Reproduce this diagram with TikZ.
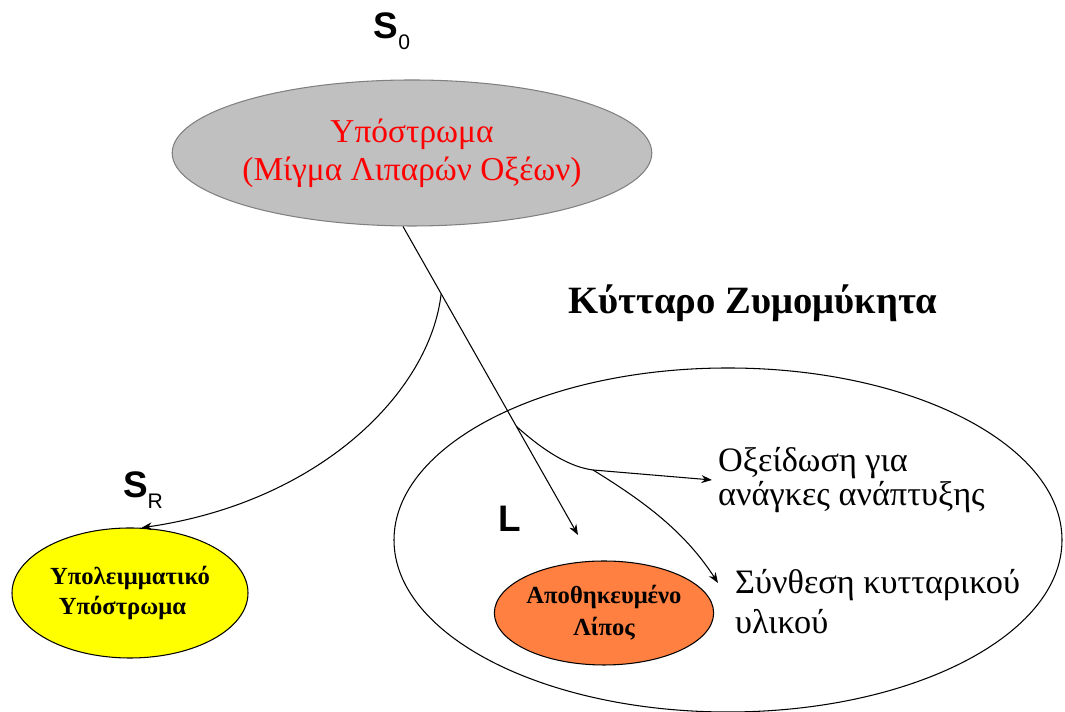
\documentclass[tikz,border=0pt]{standalone}
\usepackage{fontspec}
\setmainfont{Liberation Serif}
\newfontfamily\labelfont{Liberation Sans}
\usetikzlibrary{shapes.geometric,arrows.meta}
\definecolor{subgray}{RGB}{192,192,192}
\definecolor{resyellow}{RGB}{255,255,0}
\definecolor{fatorange}{RGB}{255,128,64}
\newcommand{\lblsub}[1]{{\mdseries\fontsize{12}{12}\selectfont\raisebox{-6pt}{#1}}}

\begin{document}
\begin{tikzpicture}[
    every node/.style={font=\fontsize{19}{22}\selectfont},
    blob/.style={ellipse, draw, inner sep=0pt, line width=0.6pt},
    conn/.style={-{Stealth[length=6pt,width=4.5pt]}, line width=0.6pt},
    tag/.style={font=\labelfont\bfseries\fontsize{21}{24}\selectfont}]
    \useasboundingbox (0,0) rectangle (21.3,14.24);

    % Cell
    \node[blob, minimum width=13.36cm, minimum height=6.88cm] (cell) at (14.56,3.44) {};
    \node[font=\fontsize{22}{26}\selectfont\bfseries] (title) at (15.06,8.18) {Κύτταρο Ζυμομύκητα};

    % Ellipses
    \node[blob, fill=subgray, draw=gray, minimum width=7.4cm, minimum height=2.92cm,
        text=red, align=center, font=\fontsize{19}{21.5}\selectfont] (sub) at (8.24,11.18)
        {Υπόστρωμα\\(Μίγμα Λιπαρών Οξέων)};
    \node[blob, fill=resyellow, minimum width=4.72cm, minimum height=2.6cm,
        align=center, font=\fontsize{14}{17}\selectfont\bfseries] (resid) at (2.6,2.38)
        {Υπολειμματικό\\Υπόστρωμα\hspace*{0.3cm}};
    \node[blob, fill=fatorange, minimum width=4.36cm, minimum height=2.08cm,
        align=center, font=\fontsize{14}{18}\selectfont\bfseries] (fat) at (12.08,1.98)
        {Αποθηκευμένο\\Λίπος};

    % Labels
    \node[tag] (s0) at (7.84,13.62) {S\lblsub{0}};
    \node[tag] (sr) at (2.86,4.44) {S\lblsub{R}};
    \node[tag] (lip) at (10.2,3.86) {L};
    \node[anchor=west, align=left, font=\fontsize{19.5}{19.5}\selectfont] (oxid) at (14.24,4.64)
        {Οξείδωση για\\ανάγκες ανάπτυξης};
    \node[anchor=west, align=left, font=\fontsize{19.5}{22.7}\selectfont] (synth) at (14.58,2.2)
        {Σύνθεση κυτταρικού\\υλικού};

    % Free ends
    \coordinate (lipin) at (11.56,3.54);
    \coordinate (junc) at (11.86,4.84);
    \coordinate (synthin) at (14.36,2.58);

    % Connectors
    \draw[conn] (sub.263) -- coordinate[pos=0.218] (fork) coordinate[pos=0.648] (split) (lipin);
    \draw[conn] (fork) .. controls (8.6,6.4) and (6.4,4.2) .. (resid.80);
    \draw[line width=0.6pt] (split) .. controls (10.9,5.2) and (11.4,4.9) .. (junc);
    \draw[conn] (junc) -- (oxid.west);
    \draw[conn] (junc) .. controls (12.9,4.2) and (13.7,3.6) .. (synthin);
\end{tikzpicture}
\end{document}
